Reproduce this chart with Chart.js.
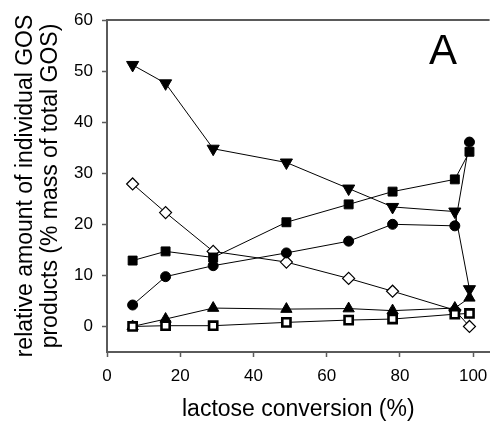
<!DOCTYPE html>
<html>
<head>
<meta charset="utf-8">
<script src="https://cdn.jsdelivr.net/npm/chart.js@4/dist/chart.umd.min.js"></script>
<style>
  html, body { margin: 0; padding: 0; background: #fff; }
  #wrap { width: 498px; height: 424px; }
</style>
</head>
<body>
<div id="wrap"><canvas id="c" width="498" height="424"></canvas></div>
<script>
// lactose conversion (%)
const conversion = [7, 16, 29, 49, 66, 78, 95, 99];
// relative amounts (% mass of total GOS)
const seriesDownTriangle = [51.2, 47.6, 34.8, 32.1, 27.0, 23.4, 22.5, 7.3];
const seriesOpenDiamond  = [27.9, 22.3, 14.7, 12.6, 9.4, 6.9, 3.2, 0.0];
const seriesSquare       = [12.9, 14.7, 13.5, 20.4, 23.9, 26.4, 28.8, 34.2];
const seriesCircle       = [4.2, 9.75, 11.9, 14.4, 16.7, 20.0, 19.7, 36.1];
const seriesUpTriangle   = [0.0, 1.45, 3.6, 3.4, 3.5, 3.1, 3.6, 5.6];
const seriesOpenSquare   = [0.0, 0.15, 0.15, 0.8, 1.25, 1.45, 2.4, 2.55];
const xTicks = [0, 20, 40, 60, 80, 100];
const yTicks = [0, 10, 20, 30, 40, 50, 60];
const panelLabel = 'A';

function pts(vals) { return conversion.map((x, i) => ({ x: x, y: vals[i] })); }

function ds(vals, style, radius, fill, bw, rot) {
  return {
    data: pts(vals),
    borderColor: '#000',
    borderWidth: 1,
    pointStyle: style,
    pointRadius: radius,
    pointBackgroundColor: fill,
    pointBorderColor: '#000',
    pointBorderWidth: bw,
    pointRotation: rot || 0,
    showLine: true,
    fill: false,
    tension: 0
  };
}

const frame = {
  id: 'frame',
  afterDraw(chart) {
    const { ctx, chartArea } = chart;
    ctx.save();
    ctx.strokeStyle = '#5a5a5a';
    ctx.lineWidth = 2;
    ctx.beginPath();
    ctx.moveTo(chartArea.left, chartArea.top);
    ctx.lineTo(chartArea.right, chartArea.top);
    ctx.stroke();
    ctx.fillStyle = '#000';
    ctx.font = '42px "Liberation Sans", Arial, sans-serif';
    ctx.textAlign = 'center';
    ctx.textBaseline = 'middle';
    ctx.fillText(panelLabel, 443, 52);
    ctx.restore();
  }
};

new Chart(document.getElementById('c'), {
  type: 'scatter',
  data: {
    datasets: [
      ds(seriesOpenSquare, 'rect', 5.8, '#fff', 2.6),
      ds(seriesUpTriangle, 'triangle', 6.5, '#000', 1),
      ds(seriesCircle, 'circle', 5, '#000', 1),
      ds(seriesSquare, 'rect', 6.3, '#000', 1),
      ds(seriesOpenDiamond, 'rectRot', 6, '#fff', 1.2),
      ds(seriesDownTriangle, 'triangle', 7, '#000', 1, 180)
    ]
  },
  options: {
    responsive: false,
    animation: false,
    devicePixelRatio: 1,
    layout: { padding: { top: 20, right: 0, bottom: 0, left: 0 } },
    plugins: { legend: { display: false }, tooltip: { enabled: false } },
    scales: {
      x: {
        type: 'linear',
        min: 0,
        max: 104.5,
        afterBuildTicks(axis) { axis.ticks = xTicks.map(v => ({ value: v })); },
        afterFit(axis) { axis.height = 72; },
        grid: { drawOnChartArea: false, drawTicks: true, tickLength: 5, color: '#5a5a5a', tickWidth: 1.5 },
        border: { display: true, color: '#5a5a5a', width: 2 },
        ticks: { color: '#000', font: { family: '"Liberation Sans", Arial, sans-serif', size: 17 }, padding: 9, maxRotation: 0 },
        title: {
          display: true,
          text: 'lactose conversion (%)',
          color: '#000',
          font: { family: '"Liberation Sans", Arial, sans-serif', size: 23, lineHeight: 1.1 },
          padding: { top: 0, bottom: 2 }
        }
      },
      y: {
        type: 'linear',
        min: -5,
        max: 60,
        afterBuildTicks(axis) { axis.ticks = yTicks.map(v => ({ value: v })); },
        afterFit(axis) { axis.width = 107; },
        grid: { drawOnChartArea: false, drawTicks: true, tickLength: 5, color: '#5a5a5a', tickWidth: 1.5 },
        border: { display: true, color: '#5a5a5a', width: 2 },
        ticks: { color: '#000', font: { family: '"Liberation Sans", Arial, sans-serif', size: 17 }, padding: 9 },
        title: {
          display: true,
          text: ['relative amount of individual GOS', 'products (% mass of total GOS)'],
          color: '#000',
          font: { family: '"Liberation Sans", Arial, sans-serif', size: 23, lineHeight: 1.08 },
          padding: { top: 13, bottom: 0 }
        }
      }
    }
  },
  plugins: [frame]
});
</script>
</body>
</html>
